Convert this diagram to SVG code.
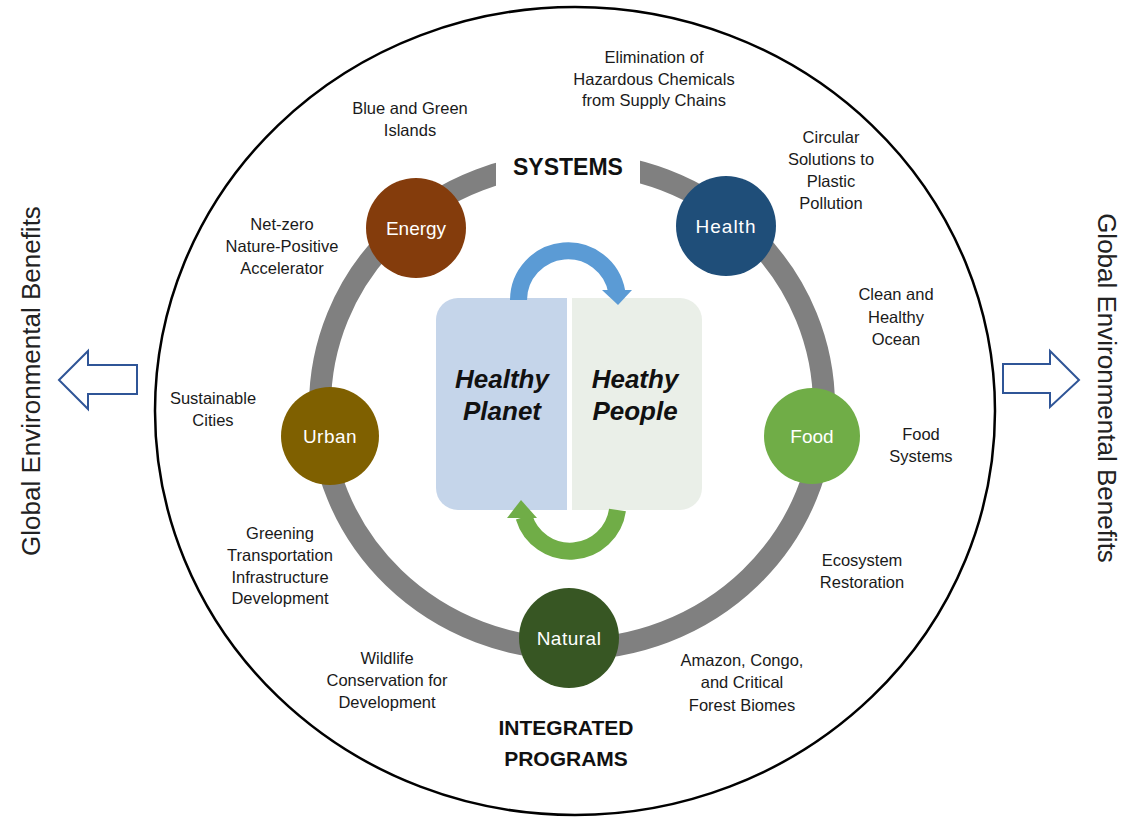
<svg xmlns="http://www.w3.org/2000/svg" width="1123" height="817" viewBox="0 0 1123 817">
<style>
.lbl{font-family:"Liberation Sans",Arial,sans-serif;font-size:16.5px;fill:#1a1a1a;text-anchor:middle}
.node text{font-family:"Liberation Sans",Arial,sans-serif;font-size:19px;fill:#ffffff;text-anchor:middle}
.hdr{font-family:"Liberation Sans",Arial,sans-serif;font-weight:bold;fill:#111;text-anchor:middle}
.big{font-family:"Liberation Sans",Arial,sans-serif;font-weight:bold;font-style:italic;font-size:26px;fill:#111;text-anchor:middle}
.side{font-family:"Liberation Sans",Arial,sans-serif;font-size:26px;fill:#222;text-anchor:middle}
.barrow{fill:#ffffff;stroke:#2F5597;stroke-width:2}
</style>
<rect width="1123" height="817" fill="#ffffff"/>
<!-- outer ellipse -->
<ellipse cx="575" cy="411" rx="420" ry="404" fill="none" stroke="#000" stroke-width="2.5"/>
<!-- gray ring -->
<g id="connectors">
<ellipse cx="572" cy="406" rx="252" ry="243" fill="none" stroke="#808080" stroke-width="22"/>
<rect x="496" y="148" width="144" height="48" fill="#ffffff"/>
</g>
<text class="hdr" x="568" y="175" font-size="23">SYSTEMS</text>
<text class="hdr" x="566" y="735" font-size="21">INTEGRATED</text>
<text class="hdr" x="566" y="766" font-size="21">PROGRAMS</text>
<!-- center -->
<g id="center">
<path d="M567 298 H458 A22 22 0 0 0 436 320 V488 A22 22 0 0 0 458 510 H567 Z" fill="#C5D5EA"/>
<path d="M572 298 H680 A22 22 0 0 1 702 320 V488 A22 22 0 0 1 680 510 H572 Z" fill="#EAEFE8"/>
<text class="big" x="502" y="388">Healthy</text>
<text class="big" x="502" y="420">Planet</text>
<text class="big" x="635" y="388">Heathy</text>
<text class="big" x="635" y="420">People</text>
<path d="M518.5 300 A49.5 49.5 0 0 1 616.7 291.4" fill="none" stroke="#5B9BD5" stroke-width="17"/>
<polygon points="602,290 632,290 618,305" fill="#5B9BD5"/>
<path d="M617.5 510 A48 48 0 0 1 524 517" fill="none" stroke="#70AD47" stroke-width="17"/>
<polygon points="507,518 537,518 521,500" fill="#70AD47"/>
</g>
<!-- nodes -->
<g id="energy" class="node"><circle cx="416" cy="228" r="50" fill="#843C0C"/><text x="416" y="235">Energy</text></g>
<g id="health" class="node"><circle cx="726" cy="226" r="50" fill="#1F4E79"/><text x="726" y="233" letter-spacing="1">Health</text></g>
<g id="urban" class="node"><circle cx="330" cy="436" r="49" fill="#7F6000"/><text x="330" y="443" letter-spacing="0.5">Urban</text></g>
<g id="food" class="node"><circle cx="812" cy="436" r="48" fill="#70AD47"/><text x="812" y="443">Food</text></g>
<g id="natural" class="node"><circle cx="569" cy="638" r="50" fill="#375623"/><text x="569" y="645" letter-spacing="0.5">Natural</text></g>
<!-- labels -->
<g id="labels">
<text class="lbl" x="654" y="63">Elimination of</text>
<text class="lbl" x="654" y="85">Hazardous Chemicals</text>
<text class="lbl" x="654" y="106">from Supply Chains</text>
<text class="lbl" x="410" y="114">Blue and Green</text>
<text class="lbl" x="410" y="136">Islands</text>
<text class="lbl" x="831" y="143">Circular</text>
<text class="lbl" x="831" y="165">Solutions to</text>
<text class="lbl" x="831" y="187">Plastic</text>
<text class="lbl" x="831" y="209">Pollution</text>
<text class="lbl" x="282" y="230">Net-zero</text>
<text class="lbl" x="282" y="252">Nature-Positive</text>
<text class="lbl" x="282" y="274">Accelerator</text>
<text class="lbl" x="896" y="300">Clean and</text>
<text class="lbl" x="896" y="323">Healthy</text>
<text class="lbl" x="896" y="345">Ocean</text>
<text class="lbl" x="213" y="404">Sustainable</text>
<text class="lbl" x="213" y="426">Cities</text>
<text class="lbl" x="921" y="440">Food</text>
<text class="lbl" x="921" y="462">Systems</text>
<text class="lbl" x="280" y="539">Greening</text>
<text class="lbl" x="280" y="561">Transportation</text>
<text class="lbl" x="280" y="583">Infrastructure</text>
<text class="lbl" x="280" y="604">Development</text>
<text class="lbl" x="862" y="566">Ecosystem</text>
<text class="lbl" x="862" y="588">Restoration</text>
<text class="lbl" x="387" y="664">Wildlife</text>
<text class="lbl" x="387" y="686">Conservation for</text>
<text class="lbl" x="387" y="708">Development</text>
<text class="lbl" x="742" y="666">Amazon, Congo,</text>
<text class="lbl" x="742" y="688">and Critical</text>
<text class="lbl" x="742" y="711">Forest Biomes</text>
</g>
<!-- side arrows and text -->
<g id="left-arrow"><polygon class="barrow" points="59,380 88,351 88,365 137,365 137,394 88,394 88,409"/></g>
<g id="right-arrow"><polygon class="barrow" points="1079,380 1050,351 1050,364 1003,364 1003,393 1050,393 1050,407"/></g>
<text class="side" transform="translate(40,381) rotate(-90)">Global Environmental Benefits</text>
<text class="side" transform="translate(1098,388) rotate(90)">Global Environmental Benefits</text>
</svg>
